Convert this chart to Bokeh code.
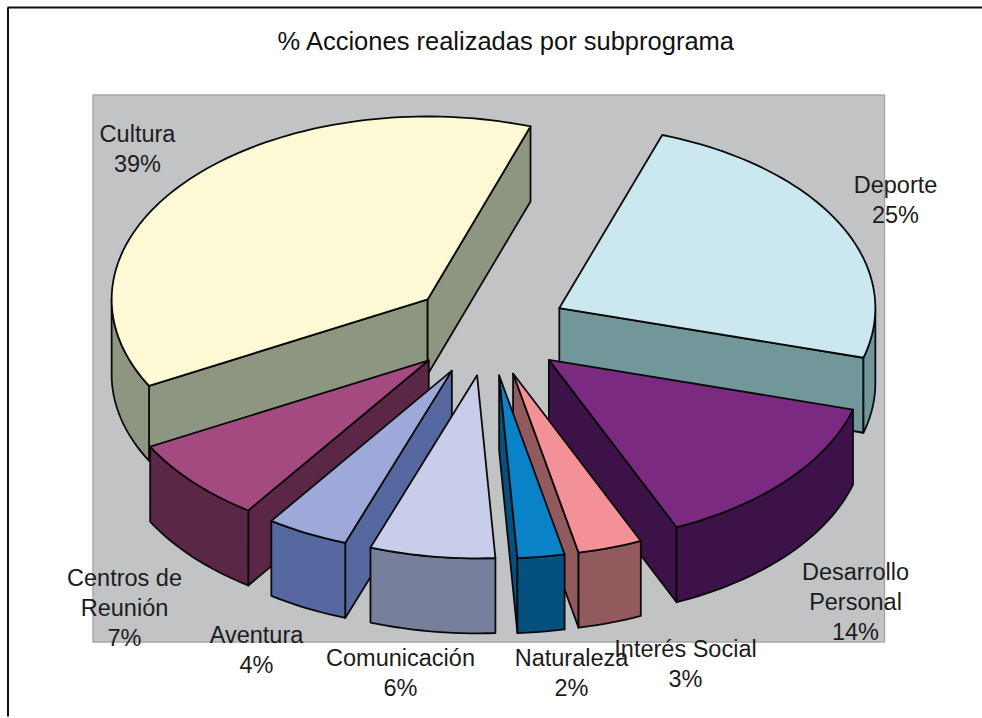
import math
from bokeh.plotting import figure
from bokeh.models import Range1d
from bokeh.core.properties import value
from bokeh.embed import file_html
from bokeh.resources import INLINE

# ---- data -----------------------------------------------------------------
title = "% Acciones realizadas por subprograma"
categories = ["Deporte", "Desarrollo Personal", "Interés Social", "Naturaleza",
              "Comunicación", "Aventura", "Centros de Reunión", "Cultura"]
shares = [24.1, 14.0, 3.3, 2.4, 6.4, 4.2, 7.5, 38.1]
percent_labels = ["25%", "14%", "3%", "2%", "6%", "4%", "7%", "39%"]

# ---- styles ---------------------------------------------------------------
top_colors = ["#CBE8F1", "#7A2A80", "#F49196", "#0A82C8",
              "#C9CDE9", "#9FA9D9", "#A44A80", "#FEFAD6"]
side_colors = ["#72979B", "#3D1249", "#925A5C", "#04507F",
               "#76809B", "#5668A0", "#5A2746", "#8E9580"]

# ---- geometry of the projected pie (page pixels) -----------------------------
CX, CY = 488.0, 329.0
RX, RY = 316.0, 183.0
EXPLODE = 0.253
DEPTH = 75.0
START = 19.0

label_lines = [["Deporte"], ["Desarrollo", "Personal"], ["Interés Social"], ["Naturaleza"],
               ["Comunicación"], ["Aventura"], ["Centros de", "Reunión"], ["Cultura"]]
label_xy = [(895, 184), (855, 571), (685, 648), (571, 657),
            (400, 657), (256, 634), (124, 577), (137, 133)]

p = figure(width=982, height=718, output_backend="svg", toolbar_location=None,
           x_range=Range1d(0, 982), y_range=Range1d(718, 0),
           min_border=0, outline_line_color=None, background_fill_color="white",
           border_fill_color="white")
p.axis.visible = False
p.grid.visible = False

# chart frame (top and left only) and plot area
p.line([7.5, 7.5], [7, 716], line_color="#111111", line_width=2)
p.line([7, 982], [7, 7], line_color="#111111", line_width=2)
p.quad(left=[92.5], right=[884], top=[94.5], bottom=[641.5],
       fill_color="#C1C3C5", line_color="#A8A8A8", line_width=1.5)


def pt(cx, cy, deg):
    r = math.radians(deg)
    return cx + RX * math.sin(r), cy - RY * math.cos(r)


total = sum(shares)
slices = []
ang = START
for i, s in enumerate(shares):
    span = s / total * 360.0
    slices.append((i, ang, ang + span))
    ang += span
# back to front
slices.sort(key=lambda t: -abs(((t[1] + t[2]) / 2) % 360 - 180))

EDGE = dict(line_color="#0A0A0A", line_width=1.8, line_join="round")

for i, a0, a1 in slices:
    mid = math.radians((a0 + a1) / 2)
    ax = CX + EXPLODE * RX * math.sin(mid)
    ay = CY - EXPLODE * RY * math.cos(mid)
    n = max(int((a1 - a0) / 1.5), 4)
    arc = [a0 + (a1 - a0) * k / n for k in range(n + 1)]
    pts = [pt(ax, ay, d) for d in arc]
    top_x = [ax] + [q[0] for q in pts]
    top_y = [ay] + [q[1] for q in pts]

    # radial walls that face the viewer
    for (ex, ey), (ox, oy) in ((pts[0], pts[-1]), (pts[-1], pts[0])):
        dx, dy = ex - ax, ey - ay
        side_other = dx * (oy - ay) - dy * (ox - ax)
        side_down = dx * 1.0
        if side_other * side_down < 0:
            p.patch([ax, ex, ex, ax], [ay, ey, ey + DEPTH, ay + DEPTH],
                    fill_color=side_colors[i], **EDGE)

    # outer rim: only the part of the arc on the viewer's side
    lo = max(a0, 90.0)
    hi = min(a1, 270.0)
    if hi > lo:
        m = max(int((hi - lo) / 1.5), 3)
        rim = [pt(ax, ay, lo + (hi - lo) * k / m) for k in range(m + 1)]
        rx = [q[0] for q in rim] + [q[0] for q in reversed(rim)]
        ry = [q[1] for q in rim] + [q[1] + DEPTH for q in reversed(rim)]
        p.patch(rx, ry, fill_color=side_colors[i], **EDGE)

    p.patch(top_x, top_y, fill_color=top_colors[i], **EDGE)

# texts
FONT = value("Liberation Sans")
LINE_H = 30
for lines, pct, (x, y) in zip(label_lines, percent_labels, label_xy):
    for k, t in enumerate(lines + [pct]):
        p.text([x], [y + k * LINE_H], text=[t], text_font=FONT, text_font_size="23.5px",
               text_align="center", text_baseline="middle", text_color="#1C1C1C")
p.text([506], [40], text=[title], text_font=FONT, text_font_size="25.5px",
       text_align="center", text_baseline="middle", text_color="#111111")

open("out.html", "w").write(file_html(p, INLINE))
